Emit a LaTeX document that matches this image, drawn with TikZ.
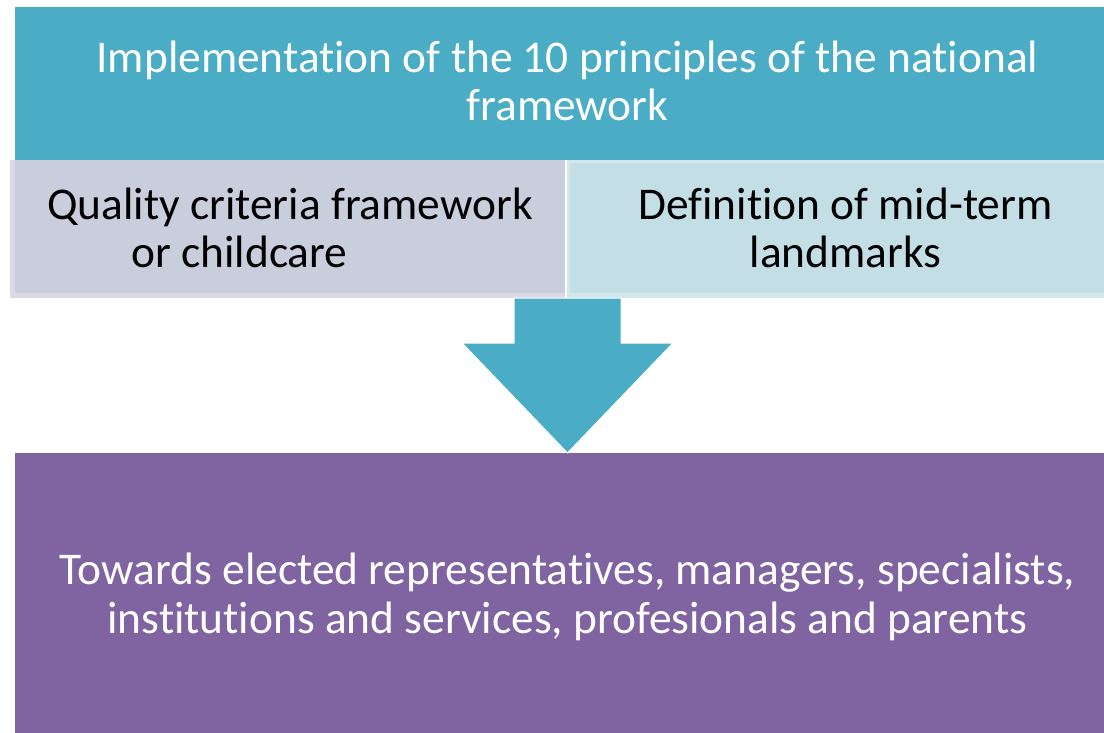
\documentclass[tikz,border=0pt]{standalone}
\usepackage{fontspec}
\setmainfont{Carlito}[Ligatures=NoCommon]
\definecolor{teal}{HTML}{4BACC6}
\definecolor{purp}{HTML}{8064A2}
\definecolor{lav}{HTML}{C9CEDD}
\definecolor{lavedge}{HTML}{DCD8E5}
\definecolor{ice}{HTML}{C4DEE6}
\definecolor{iceedge}{HTML}{D2E6EC}
\tikzset{
  txt/.style={font=\fontsize{45.4}{48.5}\selectfont, align=center, inner sep=0pt},
}
\begin{document}
\begin{tikzpicture}[x=1pt,y=-1pt]
\useasboundingbox (0,0) rectangle (1104,733);
\clip (0,0) rectangle (1104,733);
% top box
\fill[teal] (15,7) rectangle (1120,160);
\node[txt, text=white] (top) at (567.5,81) {Implementation of the 10 principles of the national\\framework};
% middle boxes
\fill[lavedge] (10,160) rectangle (565,298);
\fill[lav] (15,160) rectangle (565,293);
\node[txt, text=black] (left) at (290,228) {Quality criteria framework\\or childcare\hspace*{101pt}};
\fill[iceedge] (567,160) rectangle (1120,298);
\fill[ice] (570,163) rectangle (1120,293);
\node[txt, text=black] (right) at (845.5,228) {Definition of mid-term\\landmarks};
% bottom box
\fill[purp] (15,453) rectangle (1120,740);
\node[txt, text=white] (bottom) at (567.5,597) {Towards elected representatives, managers, specialists,\\institutions and services, profesionals and parents};
% arrow
\filldraw[fill=teal, draw=white, line width=1pt, line join=round]
  (514,298) -- (621,298) -- (621,343) -- (673,343) -- (567.5,453) -- (462,343) -- (514,343) -- cycle;
\end{tikzpicture}
\end{document}
